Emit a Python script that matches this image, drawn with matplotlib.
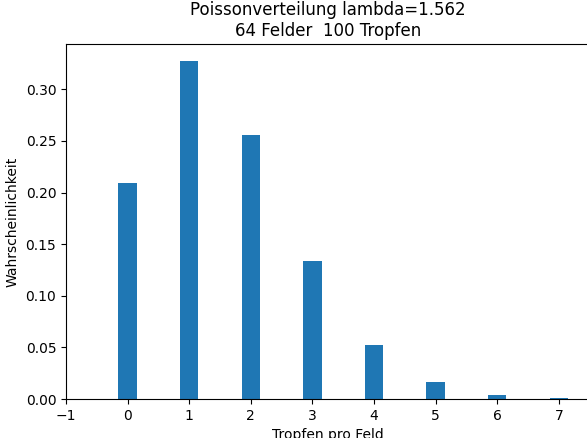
import matplotlib
matplotlib.use("Agg")
import matplotlib.pyplot as plt

tropfen = [0, 1, 2, 3, 4, 5, 6, 7]
wahrscheinlichkeit = [0.2096, 0.3275, 0.2559, 0.1333, 0.0521, 0.0163, 0.0042, 0.0009]

fig = plt.figure(figsize=(5.87, 4.38), dpi=100)
ax = fig.add_axes([0.1124, 0.089, 0.892, 0.8105])
ax.bar(tropfen, wahrscheinlichkeit, width=0.3, color="#1f77b4")
ax.set_xlim(-1, 7.5)
ax.set_xticks(range(-1, 8))
ax.set_title("Poissonverteilung lambda=1.562\n64 Felder  100 Tropfen")
ax.set_xlabel("Tropfen pro Feld")
ax.set_ylabel("Wahrscheinlichkeit")
fig.savefig("out.png", dpi=100)
